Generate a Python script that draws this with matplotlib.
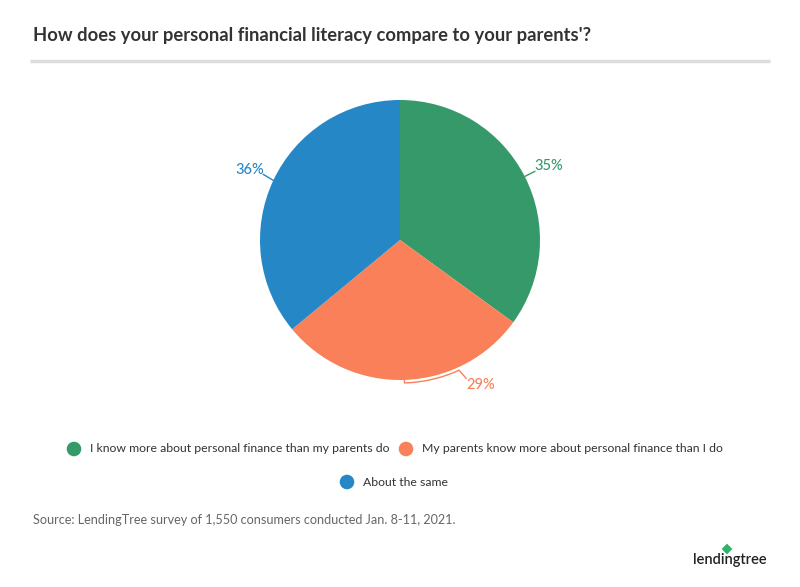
"""
Финансовая грамотность: сравнение с родителями (опрос LendingTree).
"""

import numpy as np
import matplotlib.pyplot as plt

W, H = 800, 587

title = "How does your personal financial literacy compare to your parents'?"
categories = [
    "I know more about personal finance than my parents do",
    "My parents know more about personal finance than I do",
    "About the same",
]
shares = [35, 29, 36]
colors = ['#36996A', '#F98059', '#2587C5']
source = "Source: LendingTree survey of 1,550 consumers conducted Jan. 8-11, 2021."

plt.rcParams['font.family'] = ['Lato', 'DejaVu Sans']


def py(y):
    # пиксели сверху -> координаты оси
    return H - y


fig = plt.figure(figsize=(W / 100, H / 100), dpi=100)
ax = fig.add_axes([0, 0, 1, 1])

cx, cy, r = 400, 240, 140
wedges, _ = ax.pie(shares, colors=colors, startangle=90, counterclock=False,
                   center=(cx, py(cy)), radius=r, frame=True,
                   wedgeprops=dict(linewidth=0))
ax.set_xlim(0, W)
ax.set_ylim(0, H)
ax.set_aspect('equal')
ax.axis('off')

# Подписи процентов с выносками
for i, (w, val, col) in enumerate(zip(wedges, shares, colors)):
    mid = (w.theta1 + w.theta2) / 2
    ang = np.deg2rad(mid)
    ex, ey = cx + r * np.cos(ang), py(cy) + r * np.sin(ang)
    if i == 0:
        pts = [(ex, ey), (ex + 10, ey + 5)]
        tx, ty, ha = ex + 10, ey + 10, 'left'
    elif i == 2:
        pts = [(ex, ey), (ex - 10, ey + 6)]
        tx, ty, ha = ex - 9, ey + 10, 'right'
    else:
        # выноска идёт по дуге чуть ниже края
        arc = np.deg2rad(np.linspace(mid, mid + 22.6, 30))
        pts = [(ex, ey)] + [(cx + (r + 3) * np.cos(a), py(cy) + (r + 3) * np.sin(a))
                            for a in arc]
        lx, ly = pts[-1]
        pts.append((lx + 7, ly - 8))
        tx, ty, ha = lx + 7, ly - 15, 'left'
    xs, ys = zip(*pts)
    ax.plot(xs, ys, color=col, linewidth=1)
    ax.text(tx, ty, f"{val}%", color=col, fontsize=10.5, fontweight='medium',
            ha=ha, va='center')

# Заголовок и линия
ax.text(33, py(36), title, fontsize=13.2, fontweight='bold', color='#333333',
        ha='left', va='center')
ax.plot([30, 770], [py(61), py(61)], color='#dddddd', linewidth=2.5,
        solid_capstyle='butt')

# Легенда
legend_pos = [(74, 449), (406, 449), (347, 482)]
for (lx, ly), lab, col in zip(legend_pos, categories, colors):
    ax.scatter([lx], [py(ly)], s=110, color=col, edgecolors='none')
    ax.text(lx + 16, py(ly), lab, fontsize=8.8, color='#333333',
            ha='left', va='center')

# Источник
ax.text(33, py(520), source, fontsize=9.1, color='#666666', ha='left', va='center')

# Логотип
ax.text(767, py(560), "lendingtree", fontsize=10.5, fontweight='semibold',
        color='#222222', ha='right', va='center')
ax.scatter([727], [py(549)], s=30, marker='D', color='#2fb36b', edgecolors='none')

fig.savefig('out.png', dpi=100)
